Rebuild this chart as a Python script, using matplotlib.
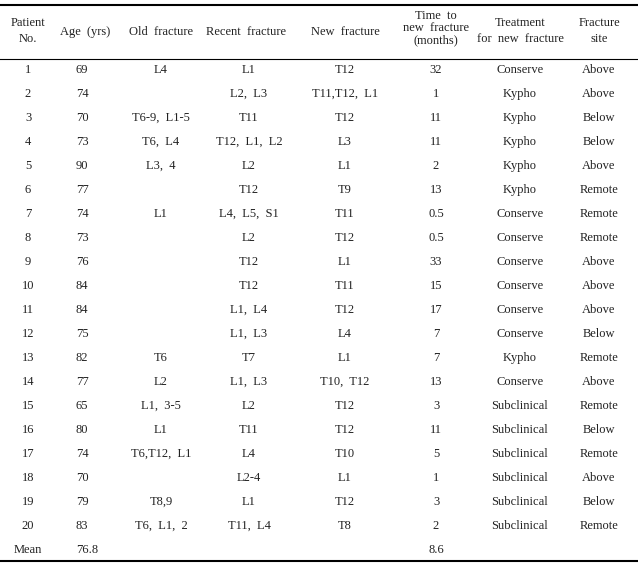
import matplotlib
matplotlib.use("Agg")
import matplotlib.pyplot as plt

patient_no = [str(i) for i in range(1, 21)] + ["Mean"]
age = ["69", "74", "70", "73", "90", "77", "74", "73", "76", "84", "84", "75",
       "82", "77", "65", "80", "74", "70", "79", "83", "76.8"]
old_fracture = ["L4", "", "T6-9,  L1-5", "T6,  L4", "L3,  4", "", "L1", "", "", "", "", "",
                "T6", "L2", "L1,  3-5", "L1", "T6,T12,  L1", "", "T8,9", "T6,  L1,  2", ""]
recent_fracture = ["L1", "L2,  L3", "T11", "T12,  L1,  L2", "L2", "T12", "L4,  L5,  S1", "L2",
                   "T12", "T12", "L1,  L4", "L1,  L3", "T7", "L1,  L3", "L2", "T11", "L4",
                   "L2-4", "L1", "T11,  L4", ""]
new_fracture = ["T12", "T11,T12,  L1", "T12", "L3", "L1", "T9", "T11", "T12", "L1", "T11",
                "T12", "L4", "L1", "T10,  T12", "T12", "T12", "T10", "L1", "T12", "T8", ""]
time_months = ["32", "1", "11", "11", "2", "13", "0.5", "0.5", "33", "15", "17", "7", "7",
               "13", "3", "11", "5", "1", "3", "2", "8.6"]
treatment = ["Conserve", "Kypho", "Kypho", "Kypho", "Kypho", "Kypho", "Conserve", "Conserve",
             "Conserve", "Conserve", "Conserve", "Conserve", "Kypho", "Conserve",
             "Subclinical", "Subclinical", "Subclinical", "Subclinical", "Subclinical",
             "Subclinical", ""]
fracture_site = ["Above", "Above", "Below", "Below", "Above", "Remote", "Remote", "Remote",
                 "Above", "Above", "Above", "Below", "Remote", "Above", "Remote", "Below",
                 "Remote", "Above", "Below", "Remote", ""]

headers = [["Patient", "No."], ["Age  (yrs)"], ["Old  fracture"], ["Recent  fracture"],
           ["New  fracture"], ["Time  to", "new  fracture", "(months)"],
           ["Treatment", "for  new  fracture"], ["Fracture", "site"]]

columns = [patient_no, age, old_fracture, recent_fracture, new_fracture,
           time_months, treatment, fracture_site]

W, H = 638, 566
fig = plt.figure(figsize=(W / 100, H / 100), dpi=100)
ax = fig.add_axes([0, 0, 1, 1])
ax.set_xlim(0, W)
ax.set_ylim(H, 0)
ax.axis("off")

font = dict(family="Liberation Serif", fontsize=9, color="#222222")
head_x = [28, 85, 161, 246, 345, 436, 520, 599]
col_x = [28, 76, 161, 249, 345, 436, 520, 599]
col_ha = ["center", "left", "center", "center", "center", "center", "center", "center"]

# header
for cx, lines in zip(head_x, headers):
    n = len(lines)
    if n == 1:
        ys = [32]
    elif n == 2:
        ys = [23.5, 39.5]
    else:
        ys = [16, 28, 40]
    for y, t in zip(ys, lines):
        ax.text(cx, y, t, ha="center", va="center", **font)

# rules
ax.plot([0, 637], [4.5, 4.5], color="black", lw=1.5)
ax.plot([0, 637], [59, 59], color="black", lw=0.8)
ax.plot([0, 637], [561, 561], color="black", lw=1.5)

row0, dy = 70, 24
for j, col in enumerate(columns):
    for i, val in enumerate(col):
        if val:
            ax.text(col_x[j], row0 + i * dy, val, ha=col_ha[j], va="center", **font)

fig.savefig("out.png", dpi=100)
